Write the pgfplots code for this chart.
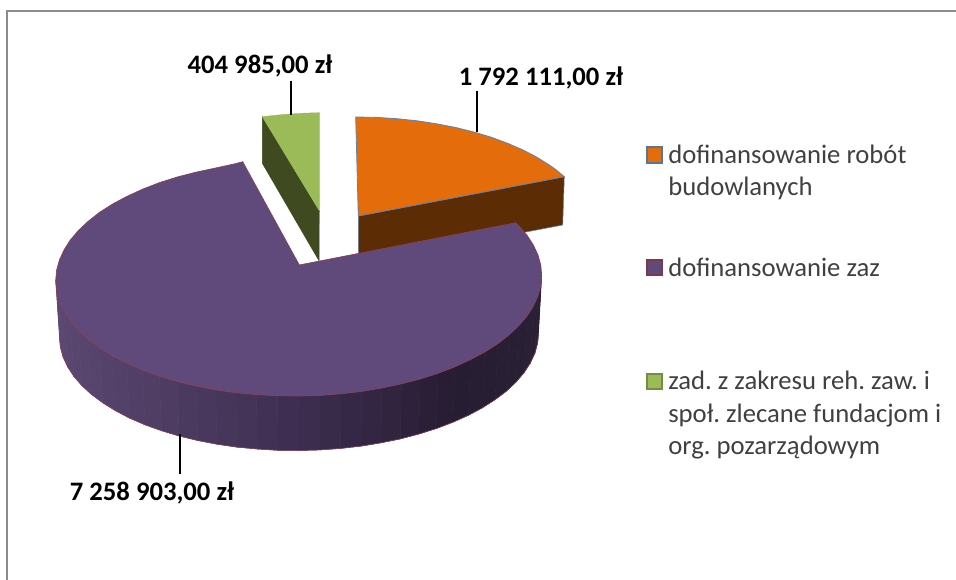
\documentclass[border=0pt]{standalone}
\usepackage{fontspec}
\setmainfont{Carlito}
\usepackage{pgfplots}
\usepackage{pgfplotstable}
\pgfplotsset{compat=1.18}
\frenchspacing
\definecolor{purp}{HTML}{604A7B}
\definecolor{purpedge}{HTML}{8A3F55}
\definecolor{orng}{HTML}{E46C0A}
\definecolor{orngside}{HTML}{5C2D05}
\definecolor{orngedge}{HTML}{5F83AD}
\definecolor{grn}{HTML}{9BBB59}
\definecolor{grnside}{HTML}{3F4A21}
\definecolor{leg}{HTML}{404040}
\definecolor{frame}{HTML}{8C8C8C}
\pgfplotstableread{
x y
541.7 275.5
540.8 285.8
538.0 296.0
533.4 306.1
527.1 316.0
518.9 325.6
509.1 334.8
497.8 343.7
484.8 352.0
470.5 359.6
454.9 366.8
438.1 373.3
420.2 379.0
401.4 383.8
381.8 388.0
361.6 391.4
341.0 393.8
319.9 395.4
298.7 396.0
277.5 395.8
256.4 394.6
235.8 392.7
215.6 389.8
196.0 386.0
177.2 381.5
159.3 376.1
142.5 370.0
126.9 363.2
112.6 355.8
99.6 347.7
88.3 339.2
78.5 330.2
70.3 320.7
64.0 310.9
59.4 301.0
56.6 290.8
55.7 280.5
538.5 333.0
537.6 343.1
534.9 353.1
530.3 363.0
524.1 372.6
516.1 382.0
506.4 391.1
495.2 399.6
482.5 407.7
468.4 415.3
452.9 422.2
436.4 428.5
418.8 434.0
400.2 438.9
380.9 442.8
361.0 446.1
340.6 448.4
319.9 449.9
299.0 450.5
278.1 450.3
257.4 449.0
237.0 447.1
217.1 444.2
197.8 440.5
179.2 436.0
161.6 430.7
145.1 424.8
129.6 418.1
115.5 410.7
102.8 402.8
91.6 394.5
81.9 385.6
73.9 376.4
67.7 366.8
63.1 357.1
60.4 347.1
59.5 337.0
}\sidetable
\begin{document}
\begin{tikzpicture}
\begin{axis}[
  name=main,
  scale only axis, width=717pt, height=435pt,
  xmin=0, xmax=956, ymin=0, ymax=580, y dir=reverse,
  hide axis, clip=true,
  colormap={side}{rgb255(0pt)=(92,72,114); rgb255(244pt)=(61,46,80); rgb255(394pt)=(39,29,51); rgb255(486pt)=(42,32,54)},
  point meta min=55.7, point meta max=541.7,
]
% frame
\addplot[frame, line width=2.2pt, forget plot] coordinates {(7,580) (7,11) (956,11)};
% orange side and top
\addplot[fill=orngside, draw=orngedge, line width=0.4pt, forget plot] coordinates {(358.3,216) (564.3,176.7) (562.7,225) (358.4,264)} --cycle;
\addplot[fill=orng, draw=orngedge, line width=0.6pt, forget plot] coordinates {
(358.3,216) (355.7,117) (376.5,117.4) (396.9,118.7) (417.0,120.8) (436.6,123.8) (455.6,127.5) (473.8,132) (491.1,137.2) (507.4,143.2) (522.6,149.8) (536.5,157) (549,164.8) (555.8,169.6) (564.3,176.7)} --cycle;
% green side and top
\addplot[fill=grnside, draw=grnside, line width=0.3pt, forget plot] coordinates {(262.3,116.7) (319.3,210.7) (319.1,261) (262.3,163.3)} --cycle;
\addplot[fill=grn, draw=grn, line width=0.3pt, forget plot] coordinates {(262.3,116.7) (276,115.2) (290,114) (305,113.1) (319.3,112.7) (319.3,210.7)} --cycle;
% purple side
\addplot[surf, shader=faceted, faceted color=mapped color, line width=0.4pt, mesh/rows=2, mesh/cols=37, point meta=x, forget plot] table[x=x,y=y] {\sidetable};
% purple lower edge
\addplot[purpedge, line width=0.4pt, forget plot] coordinates {(538.5,333.0) (537.6,343.1) (534.9,353.1) (530.3,363.0) (524.1,372.6) (516.1,382.0) (506.4,391.1) (495.2,399.6) (482.5,407.7) (468.4,415.3) (452.9,422.2) (436.4,428.5) (418.8,434.0) (400.2,438.9) (380.9,442.8) (361.0,446.1) (340.6,448.4) (319.9,449.9) (299.0,450.5) (278.1,450.3) (257.4,449.0) (237.0,447.1) (217.1,444.2) (197.8,440.5) (179.2,436.0) (161.6,430.7) (145.1,424.8) (129.6,418.1) (115.5,410.7) (102.8,402.8) (91.6,394.5) (81.9,385.6) (73.9,376.4) (67.7,366.8) (63.1,357.1) (60.4,347.1) (59.5,337.0)};
% purple top
\addplot[fill=purp, draw=purpedge, line width=0.5pt, forget plot] coordinates {
(299.3,265) (516,222.7) (527.1,235.3) (533.4,245.1) (538.0,255.0) (540.8,265.2) (541.7,275.5)
(540.8,285.8) (538.0,296.0) (533.4,306.1) (527.1,316.0) (518.9,325.6) (509.1,334.8) (497.8,343.7) (484.8,352.0) (470.5,359.6) (454.9,366.8) (438.1,373.3) (420.2,379.0) (401.4,383.8) (381.8,388.0) (361.6,391.4) (341.0,393.8) (319.9,395.4) (298.7,396.0) (277.5,395.8) (256.4,394.6) (235.8,392.7) (215.6,389.8) (196.0,386.0) (177.2,381.5) (159.3,376.1) (142.5,370.0) (126.9,363.2) (112.6,355.8) (99.6,347.7) (88.3,339.2) (78.5,330.2) (70.3,320.7) (64.0,310.9) (59.4,301.0) (56.6,290.8) (55.7,280.5)
(56.6,270.2) (59.4,260) (64.0,250) (70.3,240) (78.5,230.4) (88.3,221.2) (99.6,212.3) (112.6,204) (126.9,196.4) (142.5,189.2) (159.3,182.7) (177.2,177) (196.0,172.2) (215.6,168) (235.8,163.6) (242.7,161.7)} --cycle;
% leader lines
\addplot[black, line width=1.5pt, forget plot] coordinates {(291,80.7) (291,115)};
\addplot[black, line width=1.5pt, forget plot] coordinates {(476.7,90.7) (476.7,132.5)};
\addplot[black, line width=1.5pt, forget plot] coordinates {(180.3,434) (180.3,474.3)};
% legend swatches
\addplot[fill=orng, draw=orngedge!90!black, line width=1.5pt, forget plot] coordinates {(647,147) (661.5,147) (661.5,163) (647,163)} --cycle;
\addplot[fill=purp, draw=purpedge!90!black, line width=1.5pt, forget plot] coordinates {(647,260.5) (661.5,260.5) (661.5,275.5) (647,275.5)} --cycle;
\addplot[fill=grn, draw=grn!75!black, line width=1.5pt, forget plot] coordinates {(647,374) (661.5,374) (661.5,389) (647,389)} --cycle;
% data labels
\node[font=\fontsize{20}{22}\selectfont\bfseries, text=black, anchor=base, inner sep=0pt] at (axis cs:260,74) {404 985,00 zł};
\node[font=\fontsize{20}{22}\selectfont\bfseries, text=black, anchor=base, inner sep=0pt] at (axis cs:541,86) {1 792 111,00 zł};
\node[font=\fontsize{20}{22}\selectfont\bfseries, text=black, anchor=base, inner sep=0pt] at (axis cs:152,500) {7 258 903,00 zł};
% legend
\node[font=\fontsize{20}{22}\selectfont, text=leg, anchor=base west, inner sep=0pt] at (axis cs:668,164) {dofinansowanie robót};
\node[font=\fontsize{20}{22}\selectfont, text=leg, anchor=base west, inner sep=0pt] at (axis cs:668,196) {budowlanych};
\node[font=\fontsize{20}{22}\selectfont, text=leg, anchor=base west, inner sep=0pt] at (axis cs:668,276.7) {dofinansowanie zaz};
\node[font=\fontsize{20}{22}\selectfont, text=leg, anchor=base west, inner sep=0pt] at (axis cs:668,389.7) {zad. z zakresu reh. zaw. i};
\node[font=\fontsize{20}{22}\selectfont, text=leg, anchor=base west, inner sep=0pt] at (axis cs:668,422) {społ. zlecane fundacjom i};
\node[font=\fontsize{20}{22}\selectfont, text=leg, anchor=base west, inner sep=0pt] at (axis cs:668,454.5) {org. pozarządowym};
\end{axis}
\useasboundingbox (main.south west) rectangle (main.north east);
\end{tikzpicture}
\end{document}
